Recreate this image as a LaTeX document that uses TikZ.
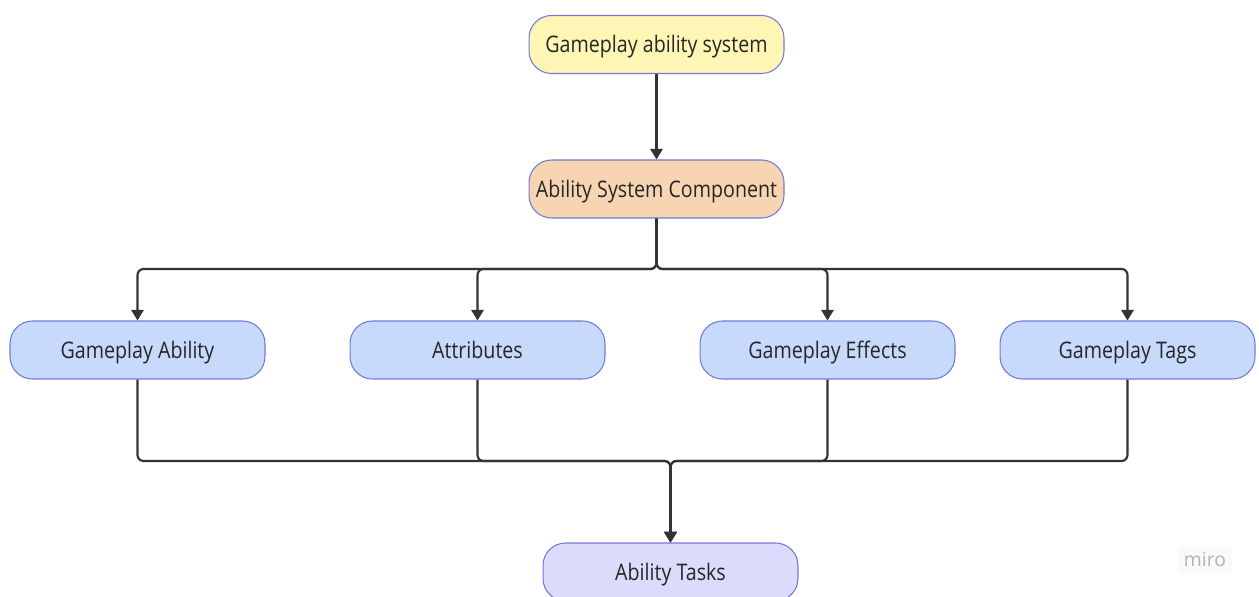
\documentclass[tikz,border=0pt]{standalone}
\usepackage{fontspec}
\setmainfont{Open Sans}[FakeStretch=0.86]
\newfontfamily\markfont{Open Sans}
\usetikzlibrary{arrows.meta}

\definecolor{edgeblue}{RGB}{112,122,218}
\definecolor{gasyellow}{RGB}{255,246,181}
\definecolor{ascpeach}{RGB}{247,212,178}
\definecolor{partblue}{RGB}{199,218,252}
\definecolor{tasklilac}{RGB}{221,219,252}
\definecolor{wire}{RGB}{51,51,51}

\tikzset{
    box/.style={draw=edgeblue, line width=0.6pt, rounded corners=0.45cm,
        minimum width=5.1cm, minimum height=1.16cm, inner sep=0pt,
        text height=9.3pt, text depth=0pt,
        font=\fontsize{13}{15}\selectfont, text=black!85},
    conn/.style={draw=wire, line width=1.2pt, rounded corners=0.12cm,
        -{Triangle[length=6pt,width=7pt]}},
}

\begin{document}
\begin{tikzpicture}[x=0.02cm, y=-0.02cm]
        \useasboundingbox (0,0) rectangle (1259,597);

        \node[box,fill=gasyellow] (gas) at (656.5,44.5){Gameplay ability system};
        \node[box,fill=ascpeach] (asc) at (656.5,189){Ability System Component};

        \node[box,fill=partblue] (ability) at (137.5,350){Gameplay Ability};
        \node[box,fill=partblue] (attr) at (477.5,350){Attributes};
        \node[box,fill=partblue] (effects) at (827.5,350){Gameplay Effects};
        \node[box,fill=partblue] (tags) at (1127.5,350){Gameplay Tags};

        \node[box,fill=tasklilac] (tasks) at (670.5,572){Ability Tasks};

        % bus lines
        \coordinate (split) at (656.5,269);
        \coordinate (merge) at (670.5,461);

        \draw[conn] (gas) -- (asc);

        \draw[conn] (asc.south) -- (split) -| (ability.north);
        \draw[conn] (asc.south) -- (split) -| (attr.north);
        \draw[conn] (asc.south) -- (split) -| (effects.north);
        \draw[conn] (asc.south) -- (split) -| (tags.north);

        \draw[conn] (ability.south) |- (merge) -- (tasks.north);
        \draw[conn] (attr.south) |- (merge) -- (tasks.north);
        \draw[conn] (effects.south) |- (merge) -- (tasks.north);
        \draw[conn] (tags.south) |- (merge) -- (tasks.north);

        \node[text=black!30, fill=black!2, font=\markfont\fontsize{11}{13}\selectfont] (mark) at (1205,560){miro};
    \end{tikzpicture}
\end{document}
